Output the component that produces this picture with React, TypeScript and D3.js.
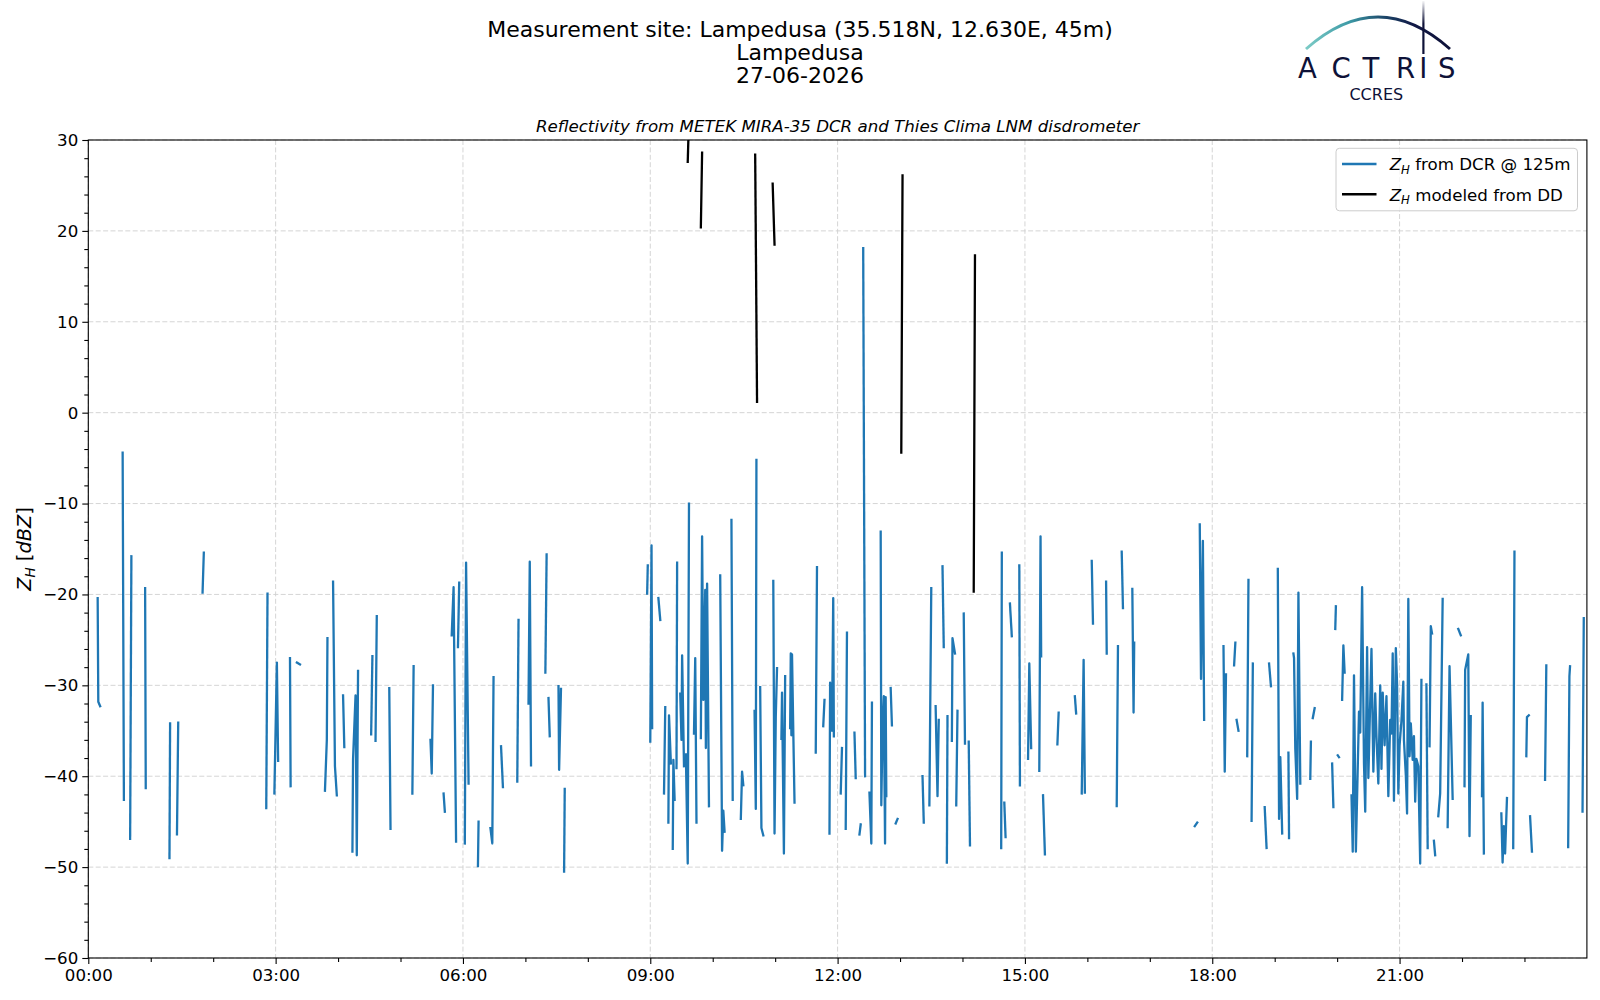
import React, { useEffect, useRef } from 'react';
import * as d3 from 'd3';

type Pt = [number, number];

// ---- texts / ticks ----
const titleLines = [
  'Measurement site: Lampedusa (35.518N, 12.630E, 45m)',
  'Lampedusa',
  '27-06-2026',
];
const subtitle = 'Reflectivity from METEK MIRA-35 DCR and Thies Clima LNM disdrometer';
const xMajorHours = [0, 3, 6, 9, 12, 15, 18, 21];
const xMinorHours = [1, 2, 4, 5, 7, 8, 10, 11, 13, 14, 16, 17, 19, 20, 22, 23];
const yMajorTicks = [-60, -50, -40, -30, -20, -10, 0, 10, 20, 30];
const legendLabels = [' from DCR @ 125m', ' modeled from DD'];
const logoLetters = ['A', 'C', 'T', 'R', 'I', 'S'];

// ---- data: [hour of day, dBZ], one array per unbroken piece ----
const dcrSegments: Pt[][] = [
  [[0.15, -20.4], [0.16, -31.8], [0.19, -32.3]],
  [[0.55, -4.4], [0.57, -42.6]],
  [[0.67, -46.9], [0.69, -15.8]],
  [[0.91, -19.3], [0.92, -41.3]],
  [[1.30, -49.0], [1.31, -34.2]],
  [[1.42, -46.4], [1.44, -34.1]],
  [[1.83, -19.8], [1.85, -15.4]],
  [[2.85, -43.5], [2.87, -19.9]],
  [[2.98, -41.9], [3.02, -27.5], [3.04, -38.3]],
  [[3.23, -27.0], [3.24, -41.1]],
  [[3.34, -27.5], [3.39, -27.7]],
  [[3.79, -41.6], [3.82, -36.0], [3.83, -24.8]],
  [[3.92, -18.6], [3.95, -38.9], [3.98, -42.1]],
  [[4.08, -31.1], [4.10, -36.8]],
  [[4.23, -48.3], [4.24, -38.1], [4.28, -31.1], [4.30, -48.7], [4.32, -28.4]],
  [[4.53, -35.4], [4.55, -26.8]],
  [[4.60, -36.1], [4.62, -22.4]],
  [[4.82, -30.3], [4.84, -45.8]],
  [[5.19, -41.9], [5.21, -27.9]],
  [[5.48, -36.0], [5.50, -39.7], [5.52, -30.0]],
  [[5.69, -41.9], [5.71, -43.9]],
  [[5.82, -24.5], [5.85, -19.2], [5.89, -47.2]],
  [[5.92, -25.8], [5.94, -18.7]],
  [[6.03, -47.4], [6.05, -16.5], [6.09, -40.8]],
  [[6.24, -49.9], [6.25, -45.0]],
  [[6.44, -45.7], [6.47, -47.4], [6.49, -29.1]],
  [[6.61, -36.7], [6.64, -41.2]],
  [[6.87, -40.6], [6.89, -22.8]],
  [[7.05, -32.0], [7.07, -16.4], [7.09, -38.8]],
  [[7.32, -28.6], [7.34, -15.6]],
  [[7.37, -31.4], [7.39, -35.6]],
  [[7.53, -30.1], [7.54, -39.3], [7.57, -30.4]],
  [[7.62, -50.5], [7.63, -41.4]],
  [[8.95, -19.9], [8.96, -16.8]],
  [[9.00, -36.2], [9.02, -14.6], [9.03, -34.7]],
  [[9.13, -20.4], [9.16, -22.8]],
  [[9.22, -41.9], [9.24, -32.4]],
  [[9.29, -45.1], [9.30, -33.3], [9.33, -38.6]],
  [[9.36, -48.0], [9.37, -38.2], [9.39, -42.6]],
  [[9.42, -39.1], [9.43, -16.5]],
  [[9.48, -30.9], [9.50, -36.0], [9.51, -26.7], [9.54, -38.9]],
  [[9.57, -37.6], [9.60, -49.6], [9.62, -10.0]],
  [[9.70, -35.3], [9.72, -27.0], [9.74, -45.1]],
  [[9.81, -35.8], [9.83, -13.6], [9.85, -31.6], [9.88, -19.5], [9.89, -36.9], [9.91, -18.8], [9.94, -43.3]],
  [[10.12, -17.9], [10.15, -48.2], [10.17, -43.8], [10.19, -46.1]],
  [[10.30, -11.8], [10.32, -42.6]],
  [[10.45, -44.7], [10.47, -39.5], [10.49, -41.0]],
  [[10.67, -32.8], [10.69, -43.6], [10.70, -5.2]],
  [[10.76, -30.2], [10.78, -45.7], [10.81, -46.5]],
  [[10.97, -18.5], [10.99, -46.3], [11.01, -33.4], [11.03, -28.1]],
  [[11.10, -35.9], [11.11, -30.8], [11.14, -48.5], [11.16, -29.0]],
  [[11.24, -34.7], [11.25, -26.5], [11.26, -35.5], [11.27, -26.6], [11.29, -34.9], [11.31, -42.9]],
  [[11.65, -37.4], [11.67, -17.0]],
  [[11.77, -34.5], [11.79, -31.6]],
  [[11.87, -46.3], [11.88, -29.7], [11.91, -35.0], [11.93, -20.4], [11.94, -35.6]],
  [[12.05, -41.9], [12.07, -36.9]],
  [[12.13, -45.8], [12.15, -24.2]],
  [[12.27, -35.2], [12.29, -40.2]],
  [[12.35, -46.4], [12.37, -45.3]],
  [[12.41, 18.1], [12.44, -40.0]],
  [[12.51, -41.8], [12.54, -47.4], [12.55, -31.9]],
  [[12.69, -13.1], [12.70, -43.2], [12.72, -34.5], [12.74, -31.2], [12.76, -47.4], [12.77, -31.3], [12.78, -42.2]],
  [[12.85, -30.3], [12.87, -34.4]],
  [[12.93, -45.2], [12.96, -44.7]],
  [[13.36, -40.0], [13.38, -45.1]],
  [[13.47, -43.2], [13.50, -19.3]],
  [[13.57, -32.3], [13.60, -42.2], [13.62, -33.8]],
  [[13.68, -16.9], [13.70, -25.8]],
  [[13.75, -49.5], [13.76, -33.4]],
  [[13.83, -36.1], [13.84, -24.8], [13.88, -26.5]],
  [[13.90, -43.2], [13.92, -32.8]],
  [[14.02, -22.1], [14.04, -36.4]],
  [[14.10, -36.2], [14.12, -47.6]],
  [[14.62, -47.9], [14.63, -15.4]],
  [[14.67, -42.9], [14.69, -46.7]],
  [[14.76, -21.0], [14.79, -24.6]],
  [[14.91, -16.8], [14.92, -41.0]],
  [[15.05, -38.1], [15.07, -27.6], [15.10, -36.9]],
  [[15.23, -39.4], [15.25, -13.6], [15.26, -26.8]],
  [[15.29, -42.1], [15.32, -48.6]],
  [[15.52, -36.5], [15.54, -33.0]],
  [[15.80, -31.2], [15.82, -33.1]],
  [[15.91, -41.9], [15.94, -27.2], [15.96, -41.8]],
  [[16.07, -16.3], [16.09, -23.2]],
  [[16.30, -18.6], [16.31, -26.5]],
  [[16.47, -43.3], [16.49, -25.7]],
  [[16.55, -15.3], [16.57, -21.5]],
  [[16.72, -19.4], [16.74, -33.0], [16.75, -25.3]],
  [[17.72, -45.5], [17.76, -45.1]],
  [[17.80, -12.3], [17.82, -29.3], [17.85, -14.1], [17.87, -33.8]],
  [[18.18, -25.7], [18.20, -39.5], [18.22, -28.8]],
  [[18.35, -27.8], [18.37, -25.3]],
  [[18.39, -33.8], [18.42, -35.0]],
  [[18.56, -37.8], [18.58, -18.4]],
  [[18.63, -44.9], [18.65, -27.6]],
  [[18.84, -43.4], [18.87, -47.9]],
  [[18.91, -27.6], [18.94, -30.1]],
  [[19.05, -17.2], [19.07, -44.7], [19.09, -37.9], [19.12, -46.3]],
  [[19.22, -37.4], [19.23, -46.8]],
  [[19.30, -26.5], [19.31, -27.0], [19.33, -37.0], [19.36, -42.5], [19.38, -19.8], [19.41, -40.8]],
  [[19.57, -40.3], [19.58, -36.2]],
  [[19.61, -33.6], [19.64, -32.5]],
  [[19.92, -38.6], [19.94, -43.4]],
  [[19.97, -23.8], [19.98, -21.3]],
  [[20.01, -37.7], [20.03, -37.9]],
  [[20.08, -31.6], [20.10, -25.6], [20.12, -28.6]],
  [
    [20.23, -42.1], [20.25, -48.3], [20.27, -28.9], [20.30, -48.3], [20.35, -32.9], [20.37, -35.2],
    [20.40, -19.2], [20.43, -38.6], [20.45, -43.9], [20.48, -25.8], [20.50, -40.2], [20.55, -26.0],
    [20.58, -39.5], [20.61, -30.9], [20.63, -35.6], [20.66, -40.8], [20.69, -30.0], [20.71, -39.2],
    [20.73, -30.8], [20.76, -36.6], [20.79, -31.2], [20.82, -42.2], [20.85, -33.8], [20.87, -35.3],
    [20.89, -26.5], [20.91, -42.7], [20.94, -25.9], [20.96, -29.8], [20.98, -41.9], [21.00, -36.6],
    [21.03, -33.9], [21.06, -29.6], [21.07, -36.0], [21.10, -39.9], [21.12, -44.1], [21.14, -20.5],
    [21.16, -37.8], [21.18, -34.2], [21.21, -38.2], [21.23, -35.6], [21.25, -42.8], [21.27, -38.1],
    [21.30, -38.9], [21.33, -49.6], [21.35, -29.4],
  ],
  [[21.43, -29.9], [21.45, -47.9]],
  [[21.48, -36.7], [21.50, -23.5], [21.52, -24.3]],
  [[21.55, -47.1], [21.57, -48.7]],
  [[21.62, -44.4], [21.65, -41.9], [21.69, -20.5]],
  [[21.77, -45.6], [21.80, -27.9], [21.82, -33.6], [21.85, -42.5]],
  [[21.94, -23.8], [21.98, -24.5]],
  [[22.04, -41.1], [22.05, -28.3], [22.10, -26.6], [22.12, -46.6], [22.14, -33.4]],
  [[22.32, -42.2], [22.33, -31.9], [22.35, -48.5]],
  [[22.63, -44.1], [22.65, -49.5], [22.67, -45.5], [22.69, -48.5], [22.72, -42.4]],
  [[22.82, -47.9], [22.84, -15.3]],
  [[23.03, -37.8], [23.04, -33.5], [23.07, -33.3]],
  [[23.09, -44.4], [23.12, -48.3]],
  [[23.33, -40.4], [23.35, -27.8]],
  [[23.70, -47.8], [23.72, -29.0], [23.73, -27.9]],
  [[23.93, -43.9], [23.95, -22.6]],
];

const ddSegments: Pt[][] = [
  [[9.60, 27.6], [9.62, 32.5]],
  [[9.81, 20.4], [9.83, 28.6]],
  [[10.68, 28.4], [10.71, 1.2]],
  [[10.96, 25.2], [10.99, 18.5]],
  [[13.02, -4.4], [13.04, 26.1]],
  [[14.18, -19.7], [14.20, 17.3]],
];

const W = 1600;
const H = 1000;
const plot = { left: 88.3, right: 1586.9, top: 140, bottom: 958 };
const BLUE = '#1f77b4';
const FONT = "'DejaVu Sans', sans-serif";

const ZHLabel = (
  sel: d3.Selection<SVGTextElement, unknown, null, undefined>,
  size: number,
  rest: string,
) => {
  sel.append('tspan').attr('font-style', 'italic').text('Z');
  sel.append('tspan').attr('font-style', 'italic').attr('font-size', size * 0.7).attr('dy', size * 0.22).text('H');
  sel.append('tspan').attr('dy', -size * 0.22).text(rest);
};

const ReflectivityChart: React.FC = () => {
  const svgRef = useRef<SVGSVGElement>(null);

  useEffect(() => {
    if (!svgRef.current) return;
    const svg = d3.select(svgRef.current);
    svg.selectAll('*').remove();

    const x = d3.scaleLinear().domain([0, 24]).range([plot.left, plot.right]);
    const y = d3.scaleLinear().domain([-60, 30]).range([plot.bottom, plot.top]);

    svg.append('rect').attr('width', W).attr('height', H).attr('fill', '#fff');

    const defs = svg.append('defs');
    defs
      .append('clipPath')
      .attr('id', 'plot-clip')
      .append('rect')
      .attr('x', plot.left)
      .attr('y', plot.top)
      .attr('width', plot.right - plot.left)
      .attr('height', plot.bottom - plot.top);

    // grid
    const grid = svg.append('g').attr('stroke', '#d0d0d0').attr('stroke-width', 0.9).attr('stroke-dasharray', '5,2.4');
    xMajorHours.forEach((h) => {
      grid.append('line').attr('x1', x(h)).attr('x2', x(h)).attr('y1', plot.top).attr('y2', plot.bottom);
    });
    yMajorTicks.forEach((v) => {
      grid.append('line').attr('x1', plot.left).attr('x2', plot.right).attr('y1', y(v)).attr('y2', y(v));
    });

    // series
    const line = d3
      .line<Pt>()
      .x((d) => x(d[0]))
      .y((d) => y(d[1]));
    const series = svg.append('g').attr('clip-path', 'url(#plot-clip)').attr('fill', 'none');
    series
      .selectAll('path.dcr')
      .data(dcrSegments)
      .join('path')
      .attr('class', 'dcr')
      .attr('d', line)
      .attr('stroke', BLUE)
      .attr('stroke-width', 2.3)
      .attr('stroke-linejoin', 'round')
      .attr('stroke-linecap', 'square');
    series
      .selectAll('path.dd')
      .data(ddSegments)
      .join('path')
      .attr('class', 'dd')
      .attr('d', line)
      .attr('stroke', '#000')
      .attr('stroke-width', 2.3)
      .attr('stroke-linecap', 'square');

    // axes
    const styleAxis = (g: d3.Selection<SVGGElement, unknown, null, undefined>) => {
      g.attr('font-family', FONT).attr('font-size', 16.67);
      g.select('.domain').remove();
      g.selectAll('.tick line').attr('stroke', '#000').attr('stroke-width', 1.1);
      g.selectAll('.tick text').attr('fill', '#000');
    };

    svg
      .append('g')
      .attr('transform', `translate(0,${plot.bottom})`)
      .call(
        d3
          .axisBottom(x)
          .tickValues(xMajorHours)
          .tickSize(6)
          .tickPadding(5.5)
          .tickFormat((h) => `${String(h).padStart(2, '0')}:00`),
      )
      .call(styleAxis);
    svg
      .append('g')
      .attr('transform', `translate(0,${plot.bottom})`)
      .call(d3.axisBottom(x).tickValues(xMinorHours).tickSize(4).tickFormat(() => ''))
      .call(styleAxis);

    svg
      .append('g')
      .attr('transform', `translate(${plot.left},0)`)
      .call(d3.axisLeft(y).tickValues(yMajorTicks).tickSize(6).tickPadding(4).tickFormat(d3.format('d')))
      .call(styleAxis);
    svg
      .append('g')
      .attr('transform', `translate(${plot.left},0)`)
      .call(
        d3
          .axisLeft(y)
          .tickValues(d3.range(-58, 30, 2).filter((v) => v % 10 !== 0))
          .tickSize(4)
          .tickFormat(() => ''),
      )
      .call(styleAxis);

    // frame
    svg
      .append('rect')
      .attr('x', plot.left)
      .attr('y', plot.top)
      .attr('width', plot.right - plot.left)
      .attr('height', plot.bottom - plot.top)
      .attr('fill', 'none')
      .attr('stroke', '#000')
      .attr('stroke-width', 1.1);

    // y label
    const yl = svg
      .append('text')
      .attr('transform', `translate(30.5,${(plot.top + plot.bottom) / 2}) rotate(-90)`)
      .attr('text-anchor', 'middle')
      .attr('font-family', FONT)
      .attr('font-size', 19.4)
      .attr('fill', '#000');
    ZHLabel(yl, 19.4, ' [');
    yl.append('tspan').attr('font-style', 'italic').text('dBZ');
    yl.append('tspan').text(']');

    // titles
    titleLines.forEach((t, i) => {
      svg
        .append('text')
        .attr('x', 800)
        .attr('y', 36.5 + i * 23)
        .attr('text-anchor', 'middle')
        .attr('font-family', FONT)
        .attr('font-size', 22)
        .attr('fill', '#000')
        .text(t);
    });
    svg
      .append('text')
      .attr('x', (plot.left + plot.right) / 2)
      .attr('y', 131.5)
      .attr('text-anchor', 'middle')
      .attr('font-family', FONT)
      .attr('font-style', 'italic')
      .attr('font-size', 16.67)
      .attr('fill', '#000')
      .text(subtitle);

    // legend
    const lg = svg.append('g');
    lg.append('rect')
      .attr('x', 1336)
      .attr('y', 148.3)
      .attr('width', 241.5)
      .attr('height', 62.5)
      .attr('rx', 3.5)
      .attr('fill', 'rgba(255,255,255,0.8)')
      .attr('stroke', '#cccccc')
      .attr('stroke-width', 1);
    [BLUE, '#000'].forEach((c, i) => {
      const cy = 164 + i * 30.3;
      lg.append('line')
        .attr('x1', 1342)
        .attr('x2', 1376.5)
        .attr('y1', cy)
        .attr('y2', cy)
        .attr('stroke', c)
        .attr('stroke-width', 2.6);
      const t = lg
        .append('text')
        .attr('x', 1389.7)
        .attr('y', cy + 6.2)
        .attr('font-family', FONT)
        .attr('font-size', 16.67)
        .attr('fill', '#000');
      ZHLabel(t, 16.67, legendLabels[i]);
    });

    // logo
    const navy = '#0e1238';
    const arcGrad = defs
      .append('linearGradient')
      .attr('id', 'arc-grad')
      .attr('gradientUnits', 'userSpaceOnUse')
      .attr('x1', 1306)
      .attr('x2', 1450)
      .attr('y1', 0)
      .attr('y2', 0);
    [
      ['0', '#7ccbc6'],
      ['0.3', '#3d9aa6'],
      ['0.55', '#1c4568'],
      ['0.75', '#111845'],
      ['1', navy],
    ].forEach(([o, c]) => arcGrad.append('stop').attr('offset', o).attr('stop-color', c));
    const vGrad = defs
      .append('linearGradient')
      .attr('id', 'v-grad')
      .attr('gradientUnits', 'userSpaceOnUse')
      .attr('x1', 0)
      .attr('x2', 0)
      .attr('y1', 0)
      .attr('y2', 53);
    vGrad.append('stop').attr('offset', '0').attr('stop-color', navy).attr('stop-opacity', 0);
    vGrad.append('stop').attr('offset', '0.45').attr('stop-color', navy).attr('stop-opacity', 1);
    vGrad.append('stop').attr('offset', '1').attr('stop-color', navy).attr('stop-opacity', 1);

    const logo = svg.append('g');
    logo
      .append('path')
      .attr('d', 'M1306,49 Q1378,-15 1450,49')
      .attr('fill', 'none')
      .attr('stroke', 'url(#arc-grad)')
      .attr('stroke-width', 3);
    logo
      .append('rect')
      .attr('x', 1422.3)
      .attr('y', 1)
      .attr('width', 2.2)
      .attr('height', 53)
      .attr('fill', 'url(#v-grad)');
    const letterX = [1307.5, 1341, 1371, 1405.5, 1423.4, 1446.7];
    logoLetters.forEach((l, i) => {
      logo
        .append('text')
        .attr('x', letterX[i])
        .attr('y', 78.3)
        .attr('text-anchor', 'middle')
        .attr('font-family', FONT)
        .attr('font-size', 27.5)
        .attr('fill', navy)
        .text(l);
    });
    logo
      .append('text')
      .attr('x', 1376.3)
      .attr('y', 100.3)
      .attr('text-anchor', 'middle')
      .attr('font-family', FONT)
      .attr('font-size', 16)
      .attr('fill', navy)
      .text('CCRES');
  }, []);

  return <svg ref={svgRef} width={W} height={H} style={{ position: 'absolute', left: 0, top: 0 }} />;
};

export default function App() {
  return <ReflectivityChart />;
}
